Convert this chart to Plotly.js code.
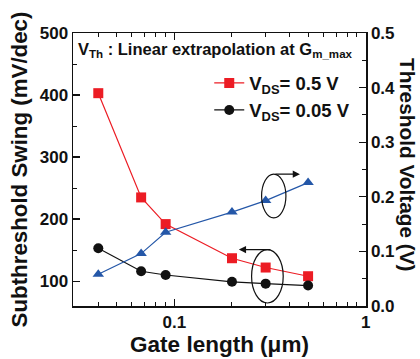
<!DOCTYPE html>
<html>
<head>
<meta charset="utf-8">
<script src="https://cdn.plot.ly/plotly-3.0.1.min.js"></script>
<style>html,body{margin:0;padding:0;background:#fff;}#chart{width:420px;height:359px;}</style>
</head>
<body>
<div id="chart"></div>
<script>
// Gate lengths (um)
var gateLength = [0.04, 0.067, 0.09, 0.2, 0.3, 0.5];
// Subthreshold swing (mV/dec)
var ssVds05 = [403, 235, 192, 137, 122, 108];
var ssVds005 = [153, 116, 110, 99, 96, 93];
// Threshold voltage (V)
var vth = [0.058, 0.096, 0.135, 0.172, 0.193, 0.226];

var xTickVals = [0.1, 1];
var xTickText = ['0.1', '1'];
var xMinorVals = [0.04, 0.05, 0.06, 0.07, 0.08, 0.09, 0.2, 0.3, 0.4, 0.5, 0.6, 0.7, 0.8, 0.9];

var RED = '#ec1c24', BLK = '#111111', BLUE = '#2457a8';
var FONT = 'Liberation Sans, Arial, sans-serif';

var traces = [
  {x: gateLength, y: ssVds05, type: 'scatter', mode: 'lines+markers', name: 'V<sub>DS</sub>= 0.5 V',
   line: {color: RED, width: 1.2}, marker: {symbol: 'square', size: 10, color: RED}},
  {x: gateLength, y: ssVds005, type: 'scatter', mode: 'lines+markers', name: 'V<sub>DS</sub>= 0.05 V',
   line: {color: BLK, width: 1.2}, marker: {symbol: 'circle', size: 10, color: BLK}},
  {x: gateLength, y: vth, type: 'scatter', mode: 'lines+markers', yaxis: 'y2', showlegend: false,
   line: {color: BLUE, width: 1.2}, marker: {symbol: 'triangle-up', size: 10, color: BLUE}}
];

function px2paperX(p){ return (p - 73.3) / 292.7; }
function px2paperY(p){ return (305.7 - p) / 272.7; }

var layout = {
  width: 420, height: 359,
  margin: {l: 73, r: 54, t: 33, b: 53},
  paper_bgcolor: '#fff', plot_bgcolor: '#fff',
  font: {family: FONT, color: '#111', size: 17},
  showlegend: true,
  legend: {x: 0.465, y: 0.885, xanchor: 'left', yanchor: 'top', bgcolor: 'rgba(0,0,0,0)',
           font: {family: FONT, size: 18.5, color: '#111', weight: 'bold'}},
  xaxis: {type: 'log', range: [Math.log10(0.0295), Math.log10(1.004)],
          tickmode: 'array', tickvals: xTickVals, ticktext: xTickText,
          ticks: 'inside', ticklen: 7, tickwidth: 1.3, tickcolor: '#111',
          minor: {tickmode: 'array', tickvals: xMinorVals, ticks: 'inside', ticklen: 4, tickwidth: 1, tickcolor: '#111'},
          showline: true, linecolor: '#111', linewidth: 1.5, mirror: 'ticks', showgrid: false, zeroline: false,
          tickfont: {family: FONT, size: 17, weight: 'bold'},
          title: {text: 'Gate length (μm)', font: {family: FONT, size: 22.5, weight: 'bold'}, standoff: 5}},
  yaxis: {range: [60, 500], tick0: 0, dtick: 100,
          ticks: 'inside', ticklen: 7, tickwidth: 1.3, tickcolor: '#111',
          minor: {dtick: 50, ticks: 'inside', ticklen: 4, tickwidth: 1, tickcolor: '#111'},
          showline: true, linecolor: '#111', linewidth: 1.5, showgrid: false, zeroline: false,
          tickfont: {family: FONT, size: 17, weight: 'bold'},
          title: {text: 'Subthreshold Swing (mV/dec)', font: {family: FONT, size: 22.3, weight: 'bold'}, standoff: 6}},
  yaxis2: {overlaying: 'y', side: 'right', range: [0, 0.5], dtick: 0.1, tick0: 0, tickformat: '.1f',
          ticks: 'inside', ticklen: 7, tickwidth: 1.3, tickcolor: '#111',
          minor: {dtick: 0.05, ticks: 'inside', ticklen: 4, tickwidth: 1, tickcolor: '#111'},
          showline: true, linecolor: '#111', linewidth: 1.5, showgrid: false, zeroline: false,
          tickfont: {family: FONT, size: 17, weight: 'bold'}},
  shapes: [
    {type: 'circle', xref: 'paper', yref: 'paper',
     x0: px2paperX(261.7), x1: px2paperX(286), y0: px2paperY(217.7), y1: px2paperY(174),
     line: {color: '#111', width: 1.2}},
    {type: 'circle', xref: 'paper', yref: 'paper',
     x0: px2paperX(251.7), x1: px2paperX(283.3), y0: px2paperY(302.7), y1: px2paperY(249.3),
     line: {color: '#111', width: 1.2}}
  ],
  annotations: [
    {xref: 'paper', yref: 'paper', x: px2paperX(76), y: px2paperY(50), xanchor: 'left', yanchor: 'middle',
     text: 'V<sub>Th</sub> : Linear extrapolation at G<sub>m_max</sub>', showarrow: false,
     font: {family: FONT, size: 16.5, weight: 'bold', color: '#111'}},
    {xref: 'paper', yref: 'paper', x: px2paperX(408), y: px2paperY(164), xanchor: 'center', yanchor: 'middle',
     text: 'Threshold Voltage (V)', textangle: 90, showarrow: false,
     font: {family: FONT, size: 20.8, weight: 'bold', color: '#111'}},
    {xref: 'paper', yref: 'paper', x: px2paperX(300), y: px2paperY(174), text: '', showarrow: true,
     axref: 'pixel', ayref: 'pixel', ax: -26, ay: 0, arrowhead: 2, arrowsize: 1.2, arrowwidth: 1.2, arrowcolor: '#111'},
    {xref: 'paper', yref: 'paper', x: px2paperX(239), y: px2paperY(249.3), text: '', showarrow: true,
     axref: 'pixel', ayref: 'pixel', ax: 33, ay: 0, arrowhead: 2, arrowsize: 1.2, arrowwidth: 1.2, arrowcolor: '#111'}
  ]
};

Plotly.newPlot('chart', traces, layout, {displayModeBar: false, staticPlot: true});
</script>
</body>
</html>
